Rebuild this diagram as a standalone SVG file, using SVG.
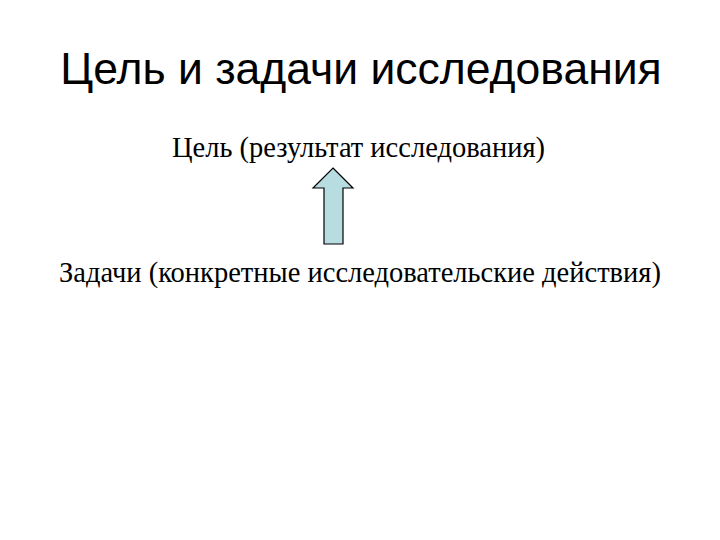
<svg xmlns="http://www.w3.org/2000/svg" width="720" height="540" viewBox="0 0 720 540">
<style>
.title{font-family:"Liberation Sans",Arial,sans-serif;font-size:44.5px;fill:#000}
.lbl{font-family:"Liberation Serif","Times New Roman",serif;font-size:28.5px;fill:#000}
.arrow{fill:#b7dde0;stroke:#000;stroke-width:1.2}
</style>
<rect width="720" height="540" fill="#fff"/>
<g id="title"><text class="title" x="361" y="84" text-anchor="middle">Цель и задачи исследования</text></g>
<g id="goal"><text class="lbl" x="358.5" y="157" text-anchor="middle">Цель (результат исследования)</text></g>
<g id="tasks"><text class="lbl" x="360" y="282" text-anchor="middle">Задачи (конкретные исследовательские действия)</text></g>
<g id="connectors">
<path class="arrow" d="M333,168 L353,188 L343,188 L343,244 L324,244 L324,188 L313,188 Z"/>
</g>
</svg>
